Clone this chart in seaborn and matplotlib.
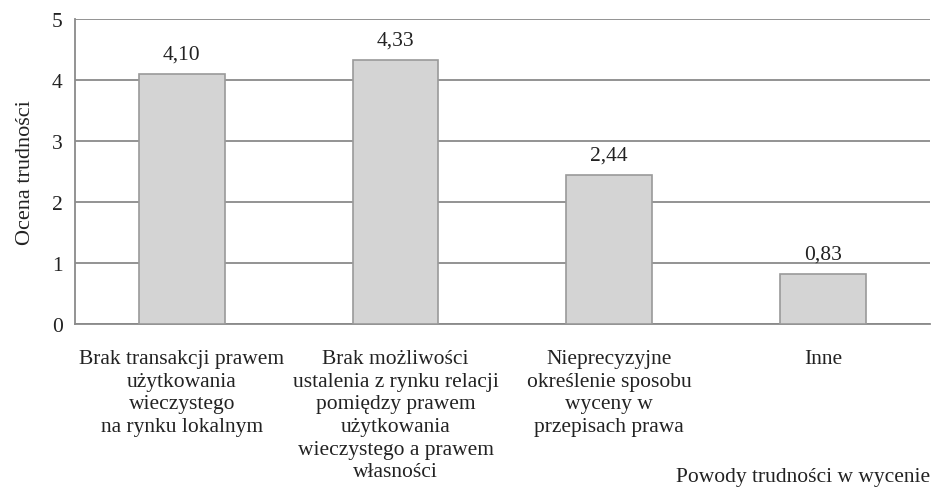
import matplotlib
matplotlib.use("Agg")
import matplotlib.pyplot as plt
import seaborn as sns
import pandas as pd
from matplotlib.ticker import FixedLocator

# Dane wykresu
kategorie = [
    "Brak transakcji prawem\nużytkowania\nwieczystego\nna rynku lokalnym",
    "Brak możliwości\nustalenia z rynku relacji\npomiędzy prawem\nużytkowania\nwieczystego a prawem\nwłasności",
    "Nieprecyzyjne\nokreślenie sposobu\nwyceny w\nprzepisach prawa",
    "Inne",
]
oceny = [4.10, 4.33, 2.44, 0.83]
etykiety = ["4,10", "4,33", "2,44", "0,83"]

df = pd.DataFrame({"kategoria": kategorie, "ocena": oceny})

sns.set_style("white")
plt.rcParams["font.family"] = ["Liberation Serif", "DejaVu Serif"]
fs = 15.5

fig = plt.figure(figsize=(9.32, 4.89), dpi=100)
ax = fig.add_axes([0.0805, 0.335, 0.917, 0.624])

sns.barplot(data=df, x="kategoria", y="ocena", ax=ax, color="#d4d4d4",
            edgecolor="#9a9a9a", linewidth=1.2, width=0.4, saturation=1, zorder=3)

for p, lab in zip(ax.patches, etykiety):
    ax.text(p.get_x() + p.get_width() / 2, p.get_height() + 0.17, lab,
            ha="center", va="bottom", fontsize=fs, color="#222222")

ax.set_ylim(0, 5)
ax.set_xlim(-0.5, 3.5)
ax.set_yticks([0, 1, 2, 3, 4, 5])
ax.yaxis.grid(True, color="#8a8a8a", linewidth=1.3, zorder=0)
ax.set_axisbelow(True)

ax.set_xticks(range(len(kategorie)))
ax.set_xticklabels(kategorie, linespacing=1.26)
ax.xaxis.set_minor_locator(FixedLocator([-0.5, 0.5, 1.5, 2.5, 3.5]))
ax.tick_params(axis="x", which="major", length=0, pad=18, labelsize=fs, colors="#222222")
ax.tick_params(axis="x", which="minor", length=5, width=1.2, color="#8a8a8a", direction="out")
ax.tick_params(axis="y", length=5, width=1.2, color="#8a8a8a", direction="out",
               labelsize=fs, labelcolor="#222222", pad=4)

for s in ["top", "right"]:
    ax.spines[s].set_visible(False)
for s in ["left", "bottom"]:
    ax.spines[s].set_color("#8a8a8a")
    ax.spines[s].set_linewidth(1.3)

ax.set_ylabel("Ocena trudności", fontsize=16, color="#222222", labelpad=12)
ax.set_xlabel("")
fig.text(0.998, 0.004, "Powody trudności w wycenie", ha="right", va="bottom",
         fontsize=fs, color="#222222")

plt.savefig("out.png", dpi=100)
plt.close()
